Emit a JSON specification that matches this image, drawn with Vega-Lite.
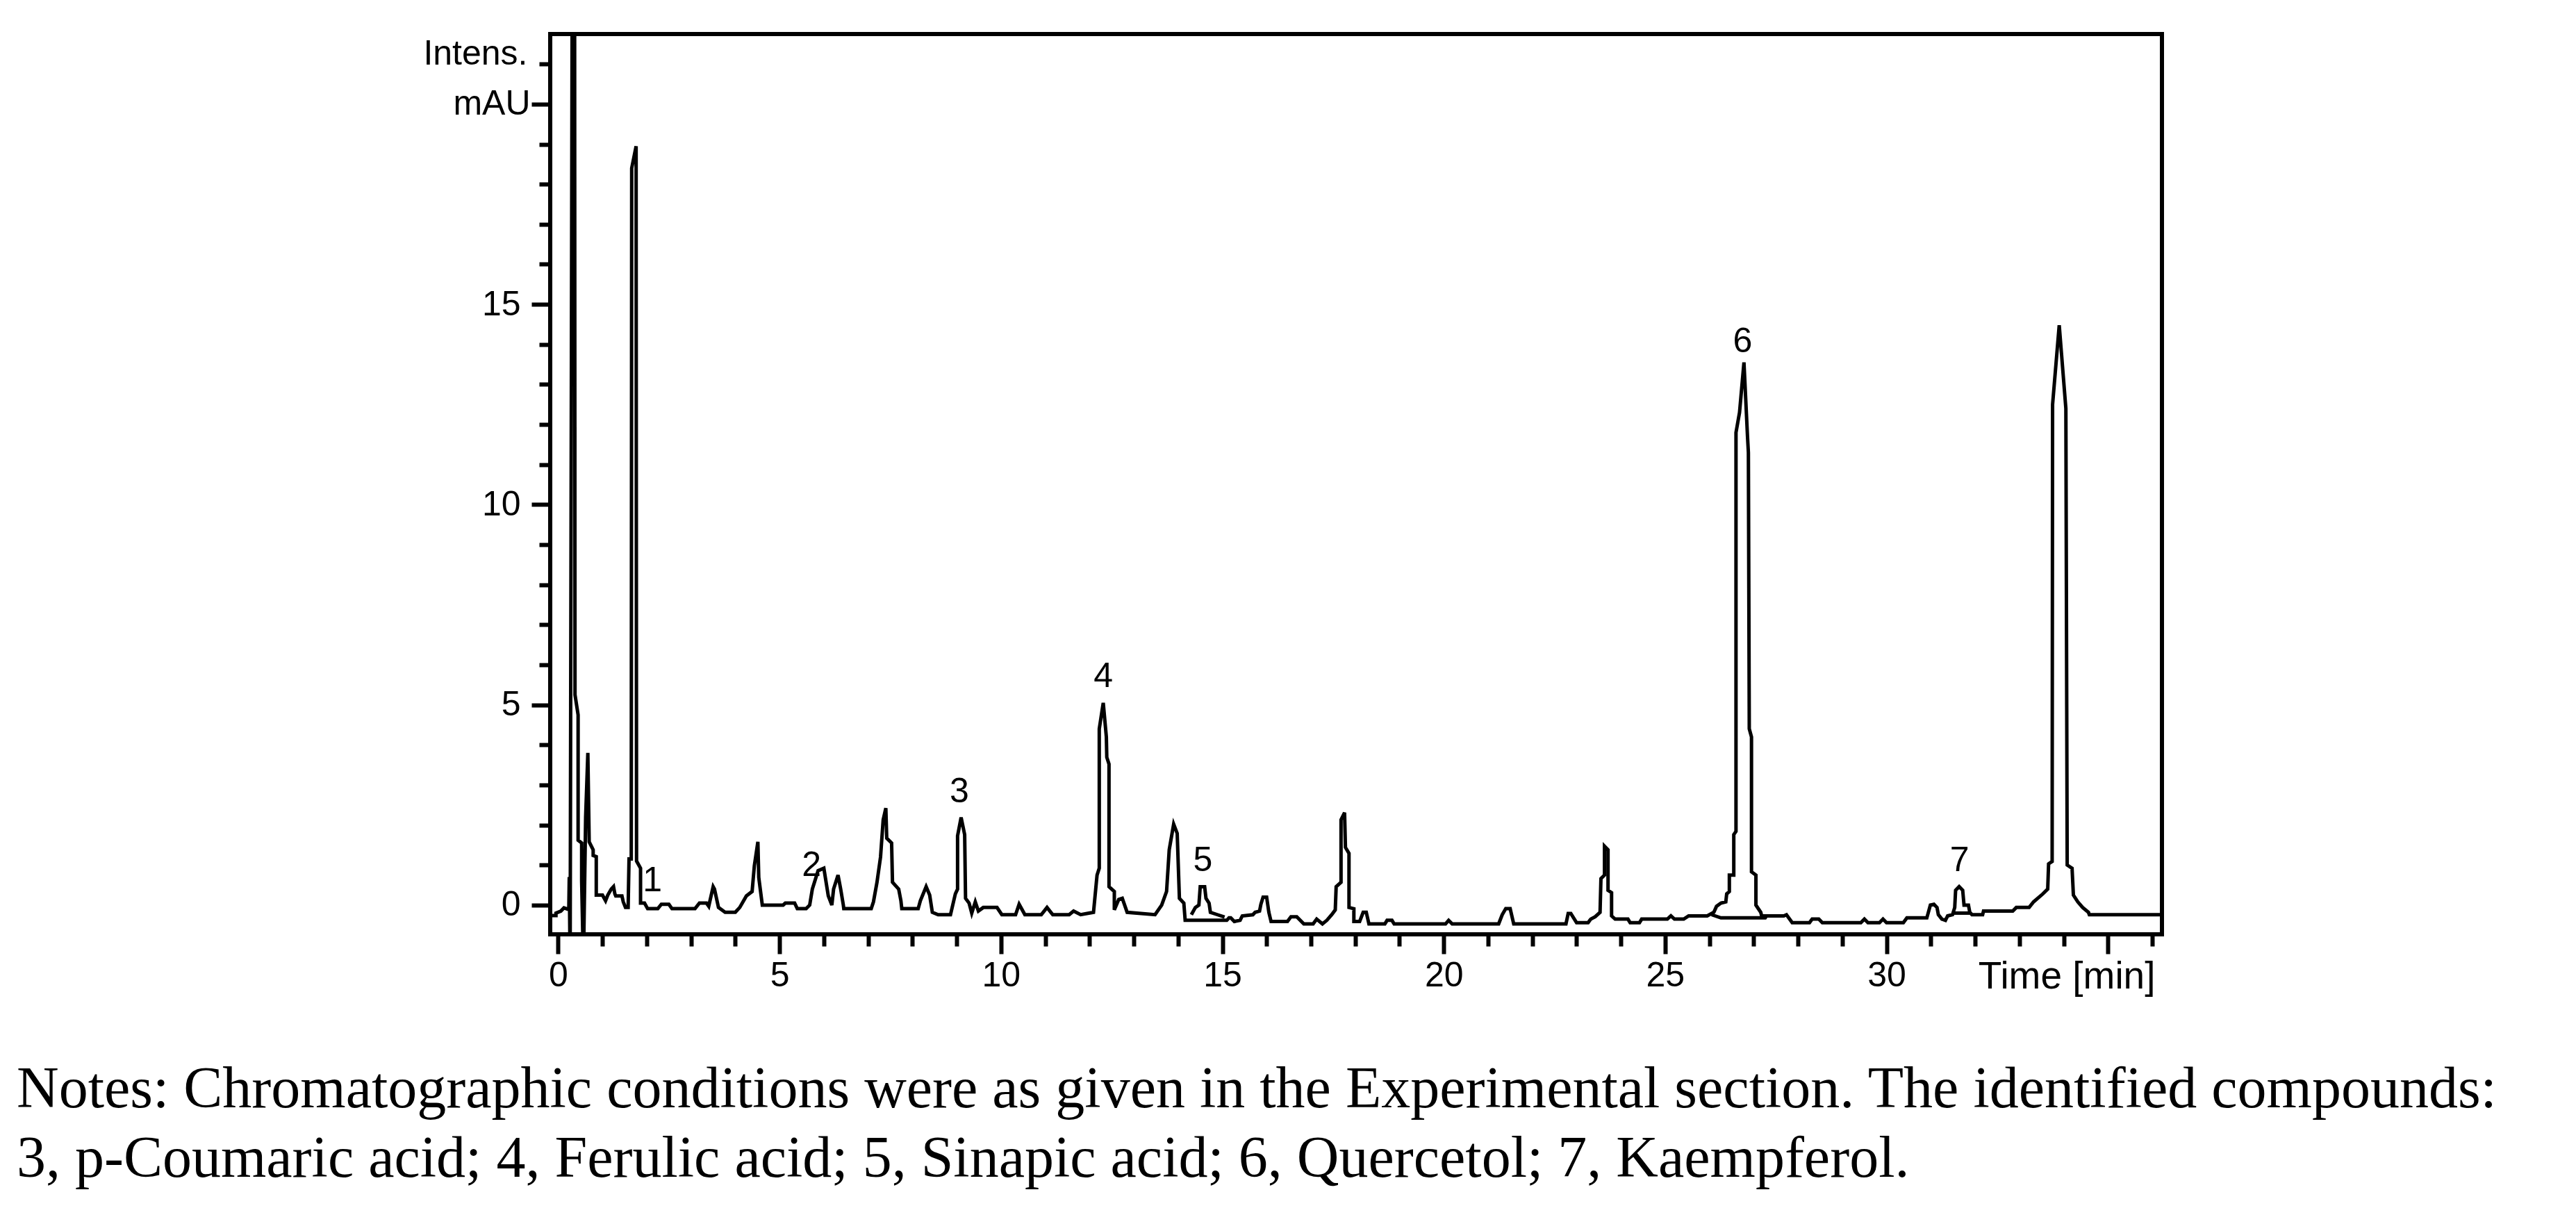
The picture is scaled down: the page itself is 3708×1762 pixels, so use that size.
{
  "$schema": "https://vega.github.io/schema/vega-lite/v6.json",
  "width": 2320,
  "height": 1296,
  "autosize": {"type": "none"},
  "padding": {"left": 792, "top": 49, "right": 596, "bottom": 417},
  "background": "white",
  "config": {
    "view": {"stroke": "black", "strokeWidth": 6},
    "axis": {"domain": false, "grid": false, "tickColor": "black", "tickWidth": 6, "labelColor": "black", "labelFont": "Liberation Sans", "labelFontSize": 50, "labelOverlap": false, "labelFlush": false, "labelBound": false}
  },
  "title": {
    "text": ["Notes: Chromatographic conditions were as given in the Experimental section. The identified compounds:", "3, p-Coumaric acid; 4, Ferulic acid; 5, Sinapic acid; 6, Quercetol; 7, Kaempferol."],
    "orient": "bottom", "anchor": "start", "frame": "group",
    "font": "Liberation Serif", "fontSize": 84, "fontWeight": "normal", "color": "black",
    "lineHeight": 100, "dx": -768, "offset": 161, "baseline": "alphabetic"
  },
  "datasets": {
    "trace": [
      {"t":-0.18,"v":-0.26},{"t":-0.05,"v":-0.26},{"t":-0.05,"v":-0.2},{"t":0.06,"v":-0.15},{"t":0.13,"v":-0.07},{"t":0.21,"v":-0.1},{"t":0.24,"v":-0.1},{"t":0.25,"v":0.7},{"t":0.27,"v":-1.5},{"t":0.32,"v":25},{"t":0.37,"v":25},{"t":0.38,"v":5.25},{"t":0.45,"v":4.75},{"t":0.45,"v":1.62},{"t":0.53,"v":1.55},{"t":0.53,"v":0.6},{"t":0.57,"v":-1.5},{"t":0.62,"v":2.2},{"t":0.67,"v":3.8},{"t":0.7,"v":1.58},{"t":0.79,"v":1.38},{"t":0.79,"v":1.24},{"t":0.86,"v":1.21},{"t":0.86,"v":0.25},{"t":1.0,"v":0.25},{"t":1.07,"v":0.11},{"t":1.12,"v":0.25},{"t":1.2,"v":0.4},{"t":1.25,"v":0.46},{"t":1.28,"v":0.28},{"t":1.3,"v":0.23},{"t":1.44,"v":0.23},{"t":1.47,"v":0.08},{"t":1.52,"v":-0.06},{"t":1.58,"v":-0.06},{"t":1.6,"v":1.15},{"t":1.65,"v":1.15},{"t":1.66,"v":18.4},{"t":1.76,"v":18.95},{"t":1.77,"v":1.1},{"t":1.86,"v":0.92},{"t":1.86,"v":0.05},{"t":1.95,"v":0.05},{"t":2.02,"v":-0.09},{"t":2.25,"v":-0.09},{"t":2.33,"v":0.02},{"t":2.5,"v":0.02},{"t":2.57,"v":-0.09},{"t":3.09,"v":-0.09},{"t":3.19,"v":0.05},{"t":3.35,"v":0.05},{"t":3.4,"v":-0.03},{"t":3.5,"v":0.46},{"t":3.53,"v":0.4},{"t":3.62,"v":-0.06},{"t":3.77,"v":-0.18},{"t":4.0,"v":-0.18},{"t":4.1,"v":-0.06},{"t":4.25,"v":0.23},{"t":4.38,"v":0.34},{"t":4.43,"v":0.98},{"t":4.51,"v":1.58},{"t":4.53,"v":0.69},{"t":4.61,"v":0.0},{"t":5.08,"v":0.0},{"t":5.13,"v":0.05},{"t":5.34,"v":0.05},{"t":5.4,"v":-0.09},{"t":5.6,"v":-0.09},{"t":5.68,"v":0.0},{"t":5.74,"v":0.4},{"t":5.87,"v":0.86},{"t":6.0,"v":0.92},{"t":6.1,"v":0.23},{"t":6.18,"v":0.0},{"t":6.22,"v":0.4},{"t":6.32,"v":0.75},{"t":6.38,"v":0.4},{"t":6.44,"v":0.0},{"t":6.45,"v":-0.09},{"t":7.07,"v":-0.09},{"t":7.12,"v":0.08},{"t":7.2,"v":0.57},{"t":7.28,"v":1.2},{"t":7.34,"v":2.13},{"t":7.4,"v":2.42},{"t":7.42,"v":1.67},{"t":7.53,"v":1.55},{"t":7.55,"v":0.57},{"t":7.69,"v":0.4},{"t":7.74,"v":0.11},{"t":7.76,"v":-0.09},{"t":8.13,"v":-0.09},{"t":8.18,"v":0.11},{"t":8.31,"v":0.46},{"t":8.39,"v":0.25},{"t":8.45,"v":-0.18},{"t":8.58,"v":-0.24},{"t":8.86,"v":-0.24},{"t":8.97,"v":0.28},{"t":9.02,"v":0.4},{"t":9.02,"v":1.73},{"t":9.1,"v":2.19},{"t":9.18,"v":1.76},{"t":9.2,"v":0.17},{"t":9.28,"v":0.05},{"t":9.34,"v":-0.2},{"t":9.42,"v":0.08},{"t":9.49,"v":-0.15},{"t":9.6,"v":-0.06},{"t":9.91,"v":-0.06},{"t":10.02,"v":-0.24},{"t":10.33,"v":-0.24},{"t":10.41,"v":0.02},{"t":10.54,"v":-0.24},{"t":10.91,"v":-0.24},{"t":11.04,"v":-0.06},{"t":11.17,"v":-0.24},{"t":11.54,"v":-0.24},{"t":11.64,"v":-0.15},{"t":11.8,"v":-0.24},{"t":12.09,"v":-0.18},{"t":12.17,"v":0.75},{"t":12.22,"v":0.92},{"t":12.22,"v":4.4},{"t":12.31,"v":5.05},{"t":12.38,"v":4.2},{"t":12.39,"v":3.69},{"t":12.44,"v":3.52},{"t":12.44,"v":0.46},{"t":12.56,"v":0.34},{"t":12.56,"v":-0.12},{"t":12.66,"v":0.14},{"t":12.74,"v":0.17},{"t":12.85,"v":-0.18},{"t":13.48,"v":-0.24},{"t":13.63,"v":0.0},{"t":13.74,"v":0.34},{"t":13.8,"v":1.38},{"t":13.9,"v":2.02},{"t":13.98,"v":1.79},{"t":14.03,"v":0.17},{"t":14.13,"v":0.05},{"t":14.16,"v":-0.38},{"t":15.1,"v":-0.38},{"t":15.15,"v":-0.32},{"t":15.19,"v":-0.32},{"t":15.27,"v":-0.41},{"t":15.4,"v":-0.38},{"t":15.45,"v":-0.27},{"t":15.69,"v":-0.24},{"t":15.74,"v":-0.18},{"t":15.84,"v":-0.15},{"t":15.87,"v":0.02},{"t":15.92,"v":0.2},{"t":16.0,"v":0.2},{"t":16.05,"v":-0.18},{"t":16.1,"v":-0.41},{"t":16.47,"v":-0.41},{"t":16.55,"v":-0.29},{"t":16.68,"v":-0.29},{"t":16.84,"v":-0.47},{"t":17.05,"v":-0.47},{"t":17.13,"v":-0.35},{"t":17.26,"v":-0.47},{"t":17.36,"v":-0.38},{"t":17.47,"v":-0.24},{"t":17.55,"v":-0.12},{"t":17.57,"v":0.46},{"t":17.68,"v":0.57},{"t":17.68,"v":2.13},{"t":17.76,"v":2.31},{"t":17.78,"v":1.44},{"t":17.86,"v":1.29},{"t":17.86,"v":-0.06},{"t":17.97,"v":-0.09},{"t":17.97,"v":-0.41},{"t":18.1,"v":-0.41},{"t":18.18,"v":-0.18},{"t":18.25,"v":-0.18},{"t":18.31,"v":-0.47},{"t":18.67,"v":-0.47},{"t":18.72,"v":-0.38},{"t":18.83,"v":-0.38},{"t":18.88,"v":-0.47},{"t":20.04,"v":-0.47},{"t":20.11,"v":-0.38},{"t":20.19,"v":-0.47},{"t":21.24,"v":-0.47},{"t":21.32,"v":-0.24},{"t":21.4,"v":-0.09},{"t":21.5,"v":-0.09},{"t":21.58,"v":-0.47},{"t":22.76,"v":-0.47},{"t":22.81,"v":-0.21},{"t":22.87,"v":-0.21},{"t":23.0,"v":-0.44},{"t":23.26,"v":-0.44},{"t":23.32,"v":-0.35},{"t":23.42,"v":-0.29},{"t":23.53,"v":-0.18},{"t":23.55,"v":0.66},{"t":23.63,"v":0.75},{"t":23.63,"v":1.47},{"t":23.71,"v":1.38},{"t":23.71,"v":0.37},{"t":23.79,"v":0.31},{"t":23.79,"v":-0.27},{"t":23.87,"v":-0.35},{"t":24.16,"v":-0.35},{"t":24.21,"v":-0.44},{"t":24.42,"v":-0.44},{"t":24.47,"v":-0.35},{"t":25.05,"v":-0.35},{"t":25.13,"v":-0.27},{"t":25.21,"v":-0.35},{"t":25.42,"v":-0.35},{"t":25.53,"v":-0.27},{"t":25.95,"v":-0.27},{"t":26.1,"v":-0.18},{"t":26.16,"v":-0.03},{"t":26.26,"v":0.05},{"t":26.37,"v":0.08},{"t":26.39,"v":0.28},{"t":26.45,"v":0.34},{"t":26.45,"v":0.75},{"t":26.55,"v":0.75},{"t":26.55,"v":1.76},{"t":26.6,"v":1.84},{"t":26.6,"v":11.8},{"t":26.68,"v":12.3},{"t":26.78,"v":13.55},{"t":26.86,"v":11.7},{"t":26.88,"v":11.3},{"t":26.9,"v":4.4},{"t":26.95,"v":4.2},{"t":26.95,"v":0.83},{"t":27.05,"v":0.75},{"t":27.05,"v":0.0},{"t":27.16,"v":-0.18},{"t":27.18,"v":-0.27},{"t":27.68,"v":-0.27},{"t":27.74,"v":-0.24},{"t":27.87,"v":-0.44},{"t":28.26,"v":-0.44},{"t":28.32,"v":-0.35},{"t":28.47,"v":-0.35},{"t":28.55,"v":-0.44},{"t":29.42,"v":-0.44},{"t":29.5,"v":-0.35},{"t":29.58,"v":-0.44},{"t":29.84,"v":-0.44},{"t":29.92,"v":-0.35},{"t":30.0,"v":-0.44},{"t":30.38,"v":-0.44},{"t":30.46,"v":-0.32},{"t":30.91,"v":-0.32},{"t":30.99,"v":0.0},{"t":31.07,"v":0.02},{"t":31.14,"v":-0.06},{"t":31.17,"v":-0.24},{"t":31.25,"v":-0.35},{"t":31.33,"v":-0.38},{"t":31.38,"v":-0.27},{"t":31.49,"v":-0.24},{"t":31.54,"v":-0.06},{"t":31.56,"v":0.37},{"t":31.64,"v":0.46},{"t":31.72,"v":0.37},{"t":31.75,"v":0.0},{"t":31.85,"v":0.0},{"t":31.88,"v":-0.18},{"t":31.93,"v":-0.24},{"t":32.17,"v":-0.24},{"t":32.19,"v":-0.15},{"t":32.85,"v":-0.15},{"t":32.93,"v":-0.06},{"t":33.22,"v":-0.06},{"t":33.32,"v":0.08},{"t":33.53,"v":0.28},{"t":33.64,"v":0.4},{"t":33.66,"v":1.03},{"t":33.74,"v":1.09},{"t":33.75,"v":12.5},{"t":33.9,"v":14.48},{"t":34.05,"v":12.4},{"t":34.08,"v":1.0},{"t":34.19,"v":0.92},{"t":34.22,"v":0.25},{"t":34.32,"v":0.08},{"t":34.43,"v":-0.06},{"t":34.56,"v":-0.18},{"t":34.58,"v":-0.24},{"t":36.22,"v":-0.24}
    ],
    "base": [
      {"g":"a","t":14.3,"v":-0.24},{"g":"a","t":14.39,"v":-0.06},{"g":"a","t":14.47,"v":0.0},{"g":"a","t":14.5,"v":0.46},{"g":"a","t":14.6,"v":0.46},{"g":"a","t":14.63,"v":0.17},{"g":"a","t":14.7,"v":0.05},{"g":"a","t":14.73,"v":-0.18},{"g":"a","t":14.89,"v":-0.24},{"g":"a","t":15.05,"v":-0.3},
      {"g":"b","t":26.05,"v":-0.24},{"g":"b","t":26.26,"v":-0.32},{"g":"b","t":27.26,"v":-0.32},{"g":"b","t":27.29,"v":-0.27},
      {"g":"c","t":31.52,"v":-0.2},{"g":"c","t":31.88,"v":-0.2}
    ],
    "labels": [
      {"t":2.13,"v":0.6,"lab":"1"},{"t":5.72,"v":0.98,"lab":"2"},{"t":9.06,"v":2.83,"lab":"3"},{"t":12.31,"v":5.7,"lab":"4"},{"t":14.56,"v":1.1,"lab":"5"},{"t":26.75,"v":14.07,"lab":"6"},{"t":31.65,"v":1.1,"lab":"7"}
    ]
  },
  "layer": [
    {
      "data": {"name": "trace"},
      "mark": {"type": "line", "clip": true, "color": "black", "strokeWidth": 5},
      "encoding": {
        "x": {"field": "t", "type": "quantitative", "scale": {"domain": [-0.18, 36.22], "nice": false, "zero": false},
              "axis": {"orient": "bottom", "values": [0,5,10,15,20,25,30,35], "tickSize": 28, "labelPadding": 6, "labelExpr": "datum.value == 35 ? '' : datum.label",
                       "title": "Time [min]", "titleFont": "Liberation Sans", "titleFontSize": 55, "titleFontWeight": "normal", "titleColor": "black",
                       "titleX": 2310, "titleY": 77, "titleAlign": "right", "titleBaseline": "alphabetic"}},
        "y": {"field": "v", "type": "quantitative", "scale": {"domain": [-0.73, 21.75], "nice": false, "zero": false},
              "axis": {"orient": "left", "values": [0,5,10,15,20], "tickSize": 27, "labelExpr": "datum.value == 20 ? 'mAU' : datum.label",
                       "labelPadding": {"condition": {"test": "datum.value == 20", "value": 2}, "value": 16}, "title": null}},
        "order": {"value": null}
      }
    },
    {
      "data": {"name": "base"},
      "mark": {"type": "line", "clip": true, "color": "black", "strokeWidth": 5},
      "encoding": {
        "x": {"field": "t", "type": "quantitative", "scale": {"domain": [-0.18, 36.22], "nice": false, "zero": false},
              "axis": {"orient": "bottom", "values": [1,2,3,4,6,7,8,9,11,12,13,14,16,17,18,19,21,22,23,24,26,27,28,29,31,32,33,34,36], "tickSize": 17, "labels": false, "title": null}},
        "y": {"field": "v", "type": "quantitative", "scale": {"domain": [-0.73, 21.75], "nice": false, "zero": false},
              "axis": {"orient": "left", "values": [1,2,3,4,6,7,8,9,11,12,13,14,16,17,18,19,21], "tickSize": 16, "labelExpr": "datum.value == 21 ? 'Intens.' : ''",
                       "labelBaseline": "alphabetic", "labelPadding": 17, "title": null}},
        "detail": {"field": "g", "type": "nominal"},
        "order": {"value": null}
      }
    },
    {
      "data": {"name": "labels"},
      "mark": {"type": "text", "font": "Liberation Sans", "fontSize": 50, "color": "black", "baseline": "middle", "align": "center"},
      "encoding": {
        "x": {"field": "t", "type": "quantitative", "scale": {"domain": [-0.18, 36.22], "nice": false, "zero": false}, "axis": null},
        "y": {"field": "v", "type": "quantitative", "scale": {"domain": [-0.73, 21.75], "nice": false, "zero": false}, "axis": null},
        "text": {"field": "lab", "type": "nominal"}
      }
    }
  ],
  "resolve": {"scale": {"x": "independent", "y": "independent"}}
}
